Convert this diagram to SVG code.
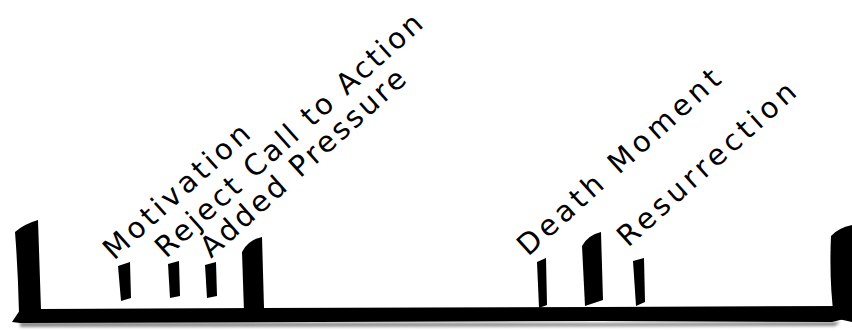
<svg xmlns="http://www.w3.org/2000/svg" width="852" height="331" viewBox="0 0 852 331">
<defs>
<filter id="soft" x="-20%" y="-20%" width="140%" height="140%">
<feGaussianBlur stdDeviation="0.7"/>
</filter>
<filter id="shadow" x="-5%" y="-50%" width="110%" height="200%">
<feGaussianBlur stdDeviation="1.5"/>
</filter>
</defs>
<style>
.ink{fill:#000;filter:url(#soft)}
.lbl{font-family:"DejaVu Sans","Liberation Sans",sans-serif;font-size:29px;fill:#000}
</style>
<rect width="852" height="331" fill="#fff"/>
<g id="timeline">
<path d="M20,322 L600,323 L840,322 L835,326 L20,327 Z" fill="#888" filter="url(#shadow)"/>
<path class="ink" d="M12,322 L20,310 L40,309 L260,308 L600,307 L845,306 L848,318 L832,322 L600,321 L20,323 Z"/>
<path class="ink" d="M15,232 Q24,224 38,220 L41,310 L19,313 Q18,270 15,232 Z"/>
<path class="ink" d="M242,252 Q248,240 262,237 L264,308 L244,312 Z"/>
<path class="ink" d="M582,246 Q588,235 601,232 L603,300 L585,306 Z"/>
<path class="ink" d="M831,236 Q838,228 852,225 L852,322 L834,318 Q829,280 831,236 Z"/>
</g>
<g id="motivation">
<path class="ink" d="M118,266 L130,262 L131,298 L121,301 Z"/>
<text class="lbl" x="114" y="261" textLength="186" lengthAdjust="spacing" transform="rotate(-42 114 261)">Motivation</text>
</g>
<g id="reject">
<path class="ink" d="M168,264 L179,261 L180,296 L170,298 Z"/>
<text class="lbl" x="166" y="259" textLength="348" lengthAdjust="spacing" transform="rotate(-42 166 259)">Reject Call to Action</text>
</g>
<g id="added">
<path class="ink" d="M205,265 L216,262 L217,296 L207,298 Z"/>
<text class="lbl" x="211" y="259" textLength="265" lengthAdjust="spacing" transform="rotate(-42 211 259)">Added Pressure</text>
</g>
<g id="death">
<path class="ink" d="M537,262 L546,258 L547,305 L539,308 Z"/>
<text class="lbl" x="528" y="257" textLength="262" lengthAdjust="spacing" transform="rotate(-42 528 257)">Death Moment</text>
</g>
<g id="resurrection">
<path class="ink" d="M633,261 L644,258 L645,302 L636,306 Z"/>
<text class="lbl" x="628" y="248" textLength="229" lengthAdjust="spacing" transform="rotate(-42 628 248)">Resurrection</text>
</g>
</svg>
